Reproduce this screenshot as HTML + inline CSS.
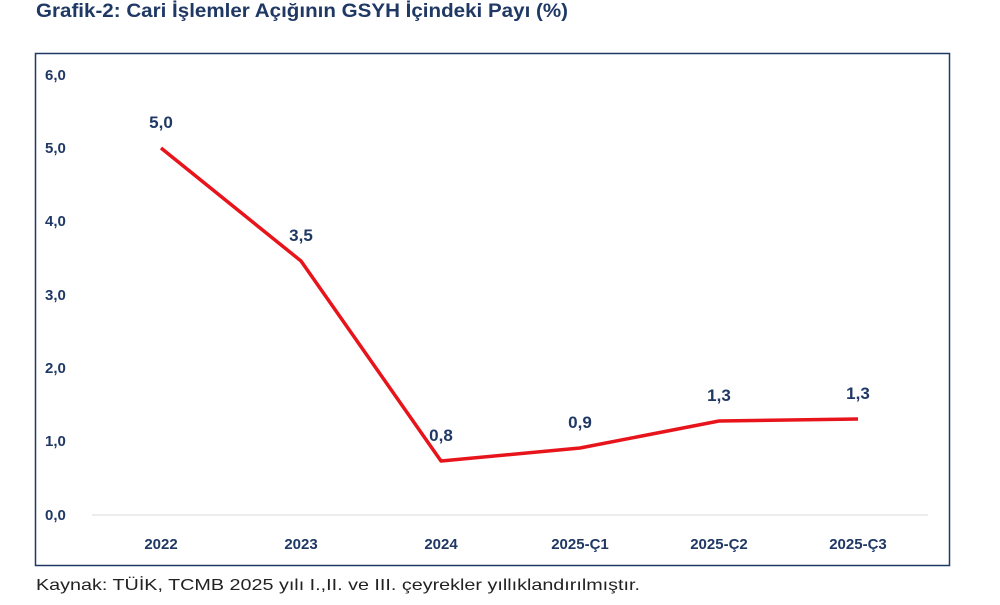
<!DOCTYPE html>
<html><head><meta charset="utf-8"><style>
body{margin:0;width:1000px;height:600px;background:#fff;overflow:hidden;font-family:"Liberation Sans",sans-serif}
</style></head><body>
<svg width="1000" height="600" viewBox="0 0 1000 600" xmlns="http://www.w3.org/2000/svg" font-family="Liberation Sans, sans-serif">
<text x="36" y="17" font-size="19" font-weight="bold" fill="#1f3864" textLength="532" lengthAdjust="spacingAndGlyphs">Grafik-2: Cari İşlemler Açığının GSYH İçindeki Payı (%)</text>
<rect x="35.5" y="53.5" width="914" height="512" fill="none" stroke="#1f3864" stroke-width="1.5"/>
<line x1="92" y1="515" x2="928" y2="515" stroke="#d9d9d9" stroke-width="1"/>
<g font-size="15" font-weight="bold" fill="#1f3864" text-anchor="start">
<text x="45" y="80">6,0</text><text x="45" y="153">5,0</text><text x="45" y="226">4,0</text>
<text x="45" y="300">3,0</text><text x="45" y="373">2,0</text><text x="45" y="446">1,0</text><text x="45" y="520">0,0</text>
</g>
<g font-size="15" font-weight="bold" fill="#1f3864" text-anchor="middle">
<text x="161" y="549">2022</text><text x="301" y="549">2023</text><text x="441" y="549">2024</text>
<text x="580" y="549">2025-Ç1</text><text x="719" y="549">2025-Ç2</text><text x="858" y="549">2025-Ç3</text>
</g>
<polyline points="161,148 301,261 441,461 580,448 719,421 858,419" fill="none" stroke="#e8141b" stroke-width="3.5" stroke-linejoin="round"/>
<g font-size="17" font-weight="bold" fill="#1f3864" text-anchor="middle">
<text x="161" y="128">5,0</text><text x="301" y="241">3,5</text><text x="441" y="441">0,8</text>
<text x="580" y="428">0,9</text><text x="719" y="401">1,3</text><text x="858" y="399">1,3</text>
</g>
<text x="36" y="590" font-size="16" fill="#222" textLength="604" lengthAdjust="spacingAndGlyphs">Kaynak: TÜİK, TCMB 2025 yılı I.,II. ve III. çeyrekler yıllıklandırılmıştır.</text>
</svg>
</body></html>
